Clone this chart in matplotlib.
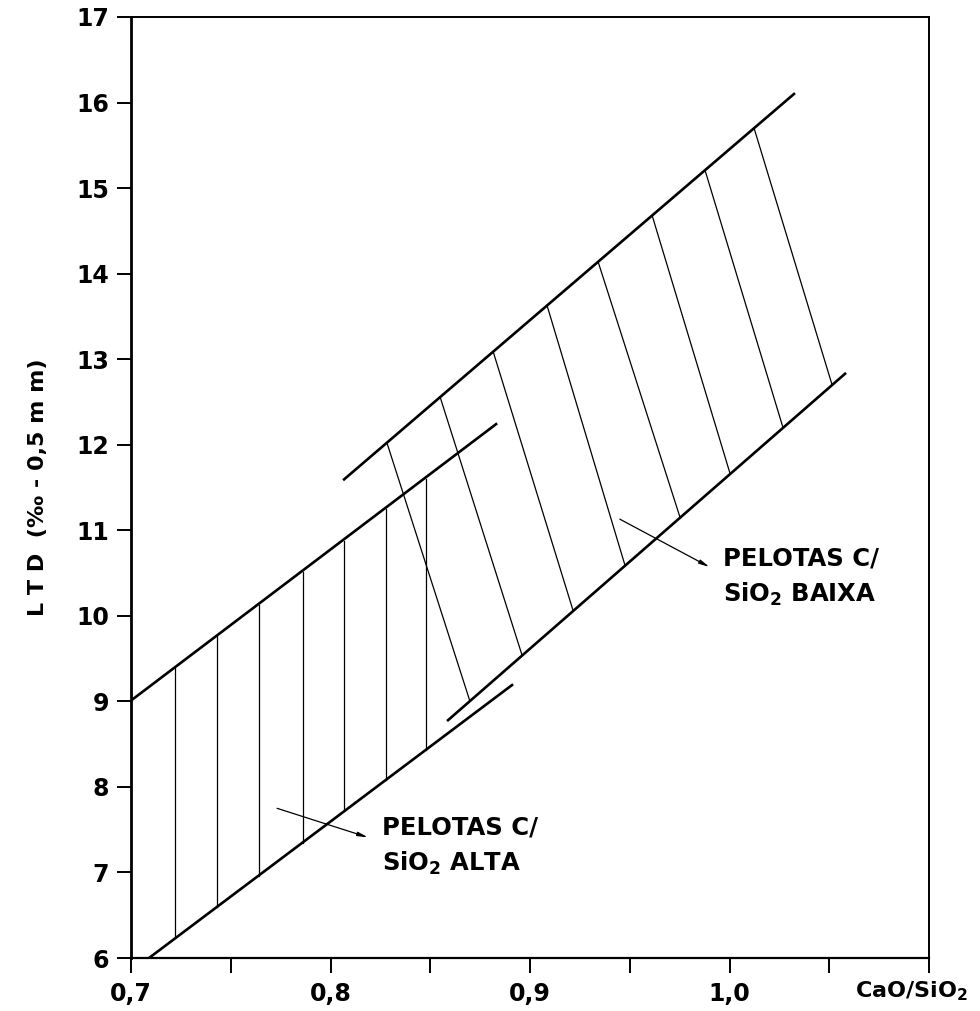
import matplotlib

matplotlib.use("Agg")
import matplotlib.pyplot as plt

# boundary lines of the two bands (x = CaO/SiO2, y = LTD)
alta_top_x = [0.700, 0.8835]
alta_top_y = [9.01, 12.25]
alta_bot_x = [0.709, 0.8915]
alta_bot_y = [6.00, 9.20]
baixa_top_x = [0.8063, 1.0328]
baixa_top_y = [11.585, 16.11]
baixa_bot_x = [0.8584, 1.0584]
baixa_bot_y = [8.77, 12.84]

# hatching of the "SiO2 alta" band (vertical strokes)
alta_hatch_x = [0.722, 0.743, 0.764, 0.786, 0.807, 0.828, 0.848]
alta_hatch_bot = [6.23, 6.60, 6.96, 7.35, 7.72, 8.08, 8.43]
alta_hatch_top = [9.39, 9.76, 10.13, 10.51, 10.88, 11.25, 11.60]

# hatching of the "SiO2 baixa" band (slanted strokes)
baixa_hatch_top_x = [0.8283, 0.8549, 0.8815, 0.9085, 0.9341, 0.9612, 0.9877, 1.0123]
baixa_hatch_top_y = [12.02, 12.56, 13.09, 13.63, 14.14, 14.68, 15.21, 15.70]
baixa_hatch_bot_x = [0.8699, 0.8960, 0.9216, 0.9476, 0.9752, 1.0003, 1.0268, 1.0514]
baixa_hatch_bot_y = [9.00, 9.54, 10.06, 10.59, 11.15, 11.66, 12.20, 12.70]

x_ticks = [0.70, 0.75, 0.80, 0.85, 0.90, 0.95, 1.00, 1.05, 1.10]
x_tick_labels = ["0,7", "", "0,8", "", "0,9", "", "1,0", "", ""]
y_ticks = list(range(6, 18))

fig = plt.figure(figsize=(9.8, 10.11), dpi=100)
ax = fig.add_axes([0.1337, 0.0524, 0.8143, 0.9308])

heavy = dict(color="black", lw=1.9, solid_capstyle="butt")
light = dict(color="black", lw=0.9)

for xs, ys in [(alta_top_x, alta_top_y), (alta_bot_x, alta_bot_y),
               (baixa_top_x, baixa_top_y), (baixa_bot_x, baixa_bot_y)]:
    ax.plot(xs, ys, **heavy)

for x, y0, y1 in zip(alta_hatch_x, alta_hatch_bot, alta_hatch_top):
    ax.plot([x, x], [y0, y1], **light)

for x0, y0, x1, y1 in zip(baixa_hatch_top_x, baixa_hatch_top_y, baixa_hatch_bot_x, baixa_hatch_bot_y):
    ax.plot([x0, x1], [y0, y1], **light)

arrow = dict(arrowstyle="-|>,head_length=0.6,head_width=0.12", color="black", lw=0.9, shrinkA=0, shrinkB=0)
ax.annotate("", xy=(0.990, 10.57), xytext=(0.945, 11.13), arrowprops=arrow)
ax.annotate("", xy=(0.8188, 7.41), xytext=(0.7732, 7.75), arrowprops=arrow)

label_font = dict(fontsize=17.5, fontweight="bold", ha="left", va="center")
ax.text(0.9967, 10.67, "PELOTAS C/", **label_font)
ax.text(0.9967, 10.25, "SiO$_\\mathbf{2}$ BAIXA", **label_font)
ax.text(0.8258, 7.53, "PELOTAS C/", **label_font)
ax.text(0.8258, 7.11, "SiO$_\\mathbf{2}$ ALTA", **label_font)

ax.set_xlim(0.7, 1.1)
ax.set_ylim(6, 17)
ax.set_xticks(x_ticks)
ax.set_xticklabels(x_tick_labels, fontweight="bold")
ax.set_yticks(y_ticks)
ax.set_yticklabels([str(v) for v in y_ticks], fontweight="bold")
ax.tick_params(axis="x", direction="out", length=11, width=1.4, labelsize=17, pad=6)
ax.tick_params(axis="y", direction="out", length=10, width=1.4, labelsize=17, pad=6)
ax.text(1.091, -0.035, "CaO/SiO$_\\mathbf{2}$", transform=ax.get_xaxis_transform(),
        fontsize=16, fontweight="bold", ha="center", va="center")

ax.spines["left"].set_linewidth(2.0)
ax.spines["bottom"].set_linewidth(1.6)
ax.spines["top"].set_linewidth(1.4)
ax.spines["right"].set_linewidth(1.4)

ax.set_ylabel("L T D  (‰ - 0,5 m m)", fontsize=16, fontweight="bold", labelpad=20)

fig.savefig("out.png", dpi=100)
